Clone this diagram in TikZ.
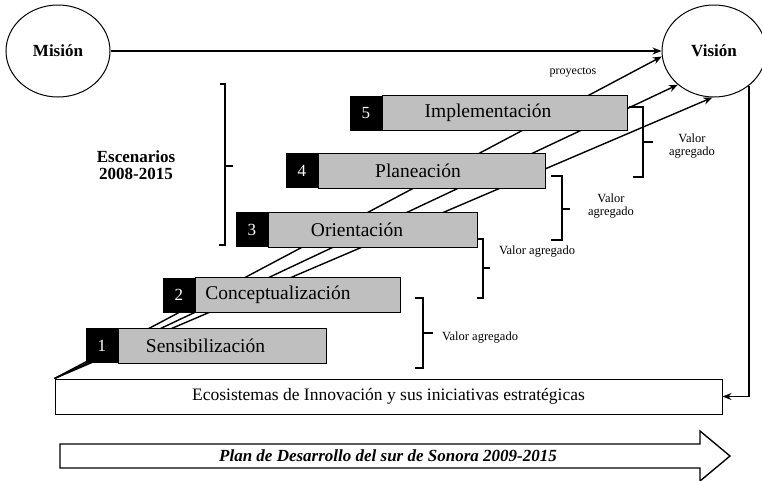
\documentclass[tikz,border=0pt]{standalone}
\usepackage{fontspec}
\setmainfont{Liberation Serif}
\usetikzlibrary{shapes.geometric,arrows.meta}
\begin{document}
\begin{tikzpicture}[x=1pt,y=-1pt,
  meta/.style={draw,line width=1pt,ellipse,minimum width=104pt,minimum height=92pt,
    font=\fontsize{17}{19}\selectfont\bfseries},
  numbox/.style={fill=black,text=white,minimum width=32pt,minimum height=35pt,
    inner sep=0pt,font=\fontsize{17}{19}\selectfont},
  etapa/.style={draw,line width=1pt,fill=black!25,minimum height=35pt,inner sep=0pt},
  valor/.style={font=\fontsize{12.5}{13}\selectfont,align=center},
  corchete/.style={line width=1.6pt},
  flecha/.style={-{Stealth[length=9pt,width=7pt]},line width=1.4pt}]
  \useasboundingbox (0,0) rectangle (762,480);

  \node[meta] (mision) at (58,51) {Misión};
  \node[meta] (vision) at (714,51) {Visión};
  \draw[flecha] (mision) -- (vision);

  \node[draw,line width=1pt,minimum width=667pt,minimum height=35pt,
    font=\fontsize{17.5}{19}\selectfont] (eco) at (388.5,396.5)
    {Ecosistemas de Innovación y sus iniciativas estratégicas};

  % lineas de avance hacia la vision
  \foreach \a in {186,223,268} {
    \draw[flecha] (eco.north west) -- (vision.\a);
  }

  % corchetes
  \draw[corchete] (220,84) -- (225,84) -- (225,245) -- (219,245) (225,166) -- (233,166);
  \draw[corchete] (629,107) -- (643,107) -- (643,177) -- (633,177) (643,142) -- (653,142);
  \draw[corchete] (551,176) -- (562,176) -- (562,240) -- (551,240) (562,209) -- (570,209);
  \draw[corchete] (478,239) -- (483,239) -- (483,298) -- (477,298) (483,268) -- (490,268);
  \draw[corchete] (415,298) -- (423,298) -- (423,368) -- (415,368) (423,333) -- (433,333);

  \foreach \n/\x/\y/\w/\o/\t in {1/118/345.5/208/-17/Sensibilización,
      2/195/295/205/-20/Conceptualización, 3/268/229.5/209/-16/Orientación,
      4/318/170.5/227/-14/Planeación, 5/382/113/245/-17/Implementación} {
    \node[etapa,minimum width=\w pt,anchor=west] (etapa\n) at (\x,\y) {};
    \node[font=\fontsize{19.5}{21}\selectfont,inner sep=0pt] (texto\n)
      at ([xshift=\o pt]etapa\n.center) {\t};
    \node[numbox,anchor=east] (num\n) at (etapa\n.west) {\n};
  }

  \node[valor] (valor5) at (692,146) {Valor\\agregado};
  \node[valor] (valor4) at (611,206) {Valor\\agregado};
  \node[valor] (valor3) at (537,252) {Valor agregado};
  \node[valor] (valor2) at (480,338) {Valor agregado};
  \node[valor,font=\fontsize{12}{13}\selectfont] (proy) at (573,72) {proyectos};
  \node[align=center,font=\fontsize{17}{17}\selectfont\bfseries] (esc) at (136,165)
    {Escenarios\\2008-2015};

  \draw[flecha] (vision.-45) |- (eco.east);

  % flecha del plan
  \draw[line width=1.4pt] (60,444) -- (700,444) -- (700,431) -- (730,456)
    -- (700,481) -- (700,468) -- (60,468) -- cycle;
  \node[font=\fontsize{17}{19}\selectfont\bfseries\itshape] (plan) at (388,456)
    {Plan de Desarrollo del sur de Sonora 2009-2015};
\end{tikzpicture}
\end{document}
